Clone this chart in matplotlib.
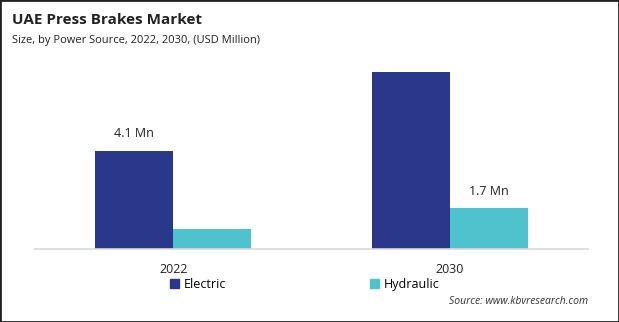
import matplotlib
matplotlib.use("Agg")
import matplotlib.pyplot as plt
from matplotlib.patches import Rectangle, Patch
import numpy as np

plt.rcParams['font.family'] = ['Open Sans', 'DejaVu Sans']

years = ["2022", "2030"]
electric = [4.1, 7.4]
hydraulic = [0.85, 1.7]
series_names = ["Electric", "Hydraulic"]
colors = ["#2a388c", "#4fc3cd"]

fig = plt.figure(figsize=(6.19, 3.22), dpi=100)
ax = fig.add_axes([35 / 619, 1 - 249 / 322, 553 / 619, 189 / 322])

x = np.arange(len(years))
w = 0.283
ax.bar(x - w / 2, electric, w, color=colors[0])
ax.bar(x + w / 2, hydraulic, w, color=colors[1])

# value callouts only on the first electric and last hydraulic bar
ax.text(x[0] - w / 2, electric[0] + 0.45, f"{electric[0]} Mn", ha="center", va="bottom",
        fontsize=9, color="#222222")
ax.text(x[1] + w / 2, hydraulic[1] + 0.45, f"{hydraulic[1]} Mn", ha="center", va="bottom",
        fontsize=9, color="#222222")

ax.set_xlim(-0.5, 1.5)
ax.set_ylim(0, 7.9)
ax.set_xticks(x)
ax.set_xticklabels(years, fontsize=9, color="#222222")
ax.tick_params(axis="x", length=0, pad=10)
ax.set_yticks([])
for side in ["top", "left", "right"]:
    ax.spines[side].set_visible(False)
ax.spines["bottom"].set_color("#d9d9d9")
ax.spines["bottom"].set_linewidth(1.2)

fig.text(12 / 619, 1 - 20 / 322, "UAE Press Brakes Market", fontsize=11, fontweight="bold",
         color="#222222", va="center")
fig.text(12 / 619, 1 - 40 / 322, "Size, by Power Source, 2022, 2030, (USD Million)", fontsize=8,
         color="#222222", va="center")

handles = [Patch(color=c, label=n) for c, n in zip(colors, series_names)]
fig.legend(handles=handles, loc="upper left", bbox_to_anchor=(170 / 619, 1 - 278 / 322),
           ncol=2, frameon=False, fontsize=9, handlelength=0.7, handleheight=0.7,
           handletextpad=0.4, columnspacing=11.5, borderpad=0, borderaxespad=0)

fig.text(588 / 619, 1 - 302 / 322, "Source: www.kbvresearch.com", fontsize=7.5, style="italic",
         color="#333333", ha="right", va="center")

fig.add_artist(Rectangle((0, 0), 1, 1, transform=fig.transFigure, fill=False,
                         edgecolor="#222222", linewidth=2.0))

fig.savefig("out.png", dpi=100)
